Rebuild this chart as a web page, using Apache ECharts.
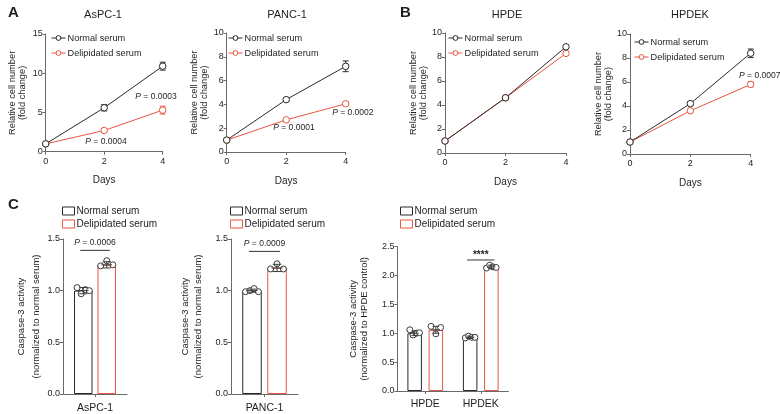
<!DOCTYPE html>
<html><head><meta charset="utf-8">
<script src="https://cdn.jsdelivr.net/npm/echarts@6/dist/echarts.min.js"></script>
<style>html,body{margin:0;padding:0;background:#fff}#c{width:780px;height:414px}</style>
</head><body><div id="c"></div>
<script>
// ---------- DATA ----------
const days = [0, 2, 4];
const lineCellLines = ['AsPC-1', 'PANC-1', 'HPDE', 'HPDEK'];
const aspcNormal = [1.0, 5.6, 10.9];
const aspcNormalSD = [0.05, 0.4, 0.5];
const aspcDelip = [1.0, 2.7, 5.3];
const aspcDelipSD = [0.05, 0.1, 0.5];
const pancNormal = [1.0, 4.4, 7.2];
const pancNormalSD = [0.05, 0.1, 0.45];
const pancDelip = [1.0, 2.7, 4.05];
const pancDelipSD = [0.05, 0.08, 0.1];
const hpdeNormal = [1.0, 4.6, 8.85];
const hpdeNormalSD = [0.05, 0.12, 0.1];
const hpdeDelip = [1.0, 4.6, 8.3];
const hpdeDelipSD = [0.05, 0.1, 0.1];
const hpdekNormal = [1.0, 4.2, 8.4];
const hpdekNormalSD = [0.05, 0.15, 0.35];
const hpdekDelip = [1.0, 3.6, 5.8];
const hpdekDelipSD = [0.05, 0.1, 0.2];
const aspcNotes = [[3.77, 6.97], [2.06, 1.24]];
const aspcNoteText = ['0.0003', '0.0004'];
const pancNotes = [[2.26, 2.02], [4.24, 3.28]];
const pancNoteText = ['0.0001', '0.0002'];
const hpdekNotes = [[4.3, 6.5]];
const hpdekNoteText = ['0.0007'];

const c1Cats = ['AsPC-1'];
const c1NormalMean = [1.0];
const c1DelipMean = [1.25];
const c1NormalSD = [0.03];
const c1DelipSD = [0.03];
const c1NormalPts = [[1.03, 0.97, 1.01, 1.0]];
const c1DelipPts = [[1.24, 1.29, 1.25]];
const c1Bracket = [0, 1.39];
const c1BracketText = '0.0006';

const c2Cats = ['PANC-1'];
const c2NormalMean = [1.0];
const c2DelipMean = [1.22];
const c2NormalSD = [0.015];
const c2DelipSD = [0.035];
const c2NormalPts = [[0.99, 1.0, 1.02, 0.99]];
const c2DelipPts = [[1.21, 1.26, 1.21]];
const c2Bracket = [0, 1.38];
const c2BracketText = '0.0009';

const c3Cats = ['HPDE', 'HPDEK'];
const c3NormalMean = [1.0, 0.93];
const c3DelipMean = [1.06, 2.15];
const c3NormalSD = [0.04, 0.02];
const c3DelipSD = [0.06, 0.03];
const c3NormalPts = [[1.06, 0.97, 1.0, 1.01], [0.92, 0.95, 0.93, 0.93]];
const c3DelipPts = [[1.12, 0.99, 1.1], [2.13, 2.18, 2.15, 2.14]];
const c3Bracket = [1, 2.27];
const c3BracketText = '****';

const legendNames = ['Normal serum', 'Delipidated serum'];

// ---------- STYLE ----------
const BLACK = '#2a2a2a', RED = '#e9553f', AXIS = '#6a6a6a', TEXT = '#1e1e1e';
const FONT = 'Liberation Sans, Arial, Helvetica, sans-serif';

const grids = [], xAxes = [], yAxes = [], series = [], legends = [];

function errRender(color, cw) {
  return function (params, api) {
    const x = api.value(0), y = api.value(1), e = api.value(2);
    const lo = api.coord([x, y - e]), hi = api.coord([x, y + e]);
    const st = { stroke: color, lineWidth: 1 };
    return { type: 'group', children: [
      { type: 'line', shape: { x1: lo[0], y1: lo[1], x2: hi[0], y2: hi[1] }, style: st },
      { type: 'line', shape: { x1: lo[0] - cw, y1: lo[1], x2: lo[0] + cw, y2: lo[1] }, style: st },
      { type: 'line', shape: { x1: hi[0] - cw, y1: hi[1], x2: hi[0] + cw, y2: hi[1] }, style: st }
    ] };
  };
}

function axisCommon() {
  return {
    axisLine: { show: true, onZero: false, lineStyle: { color: AXIS, width: 1 } },
    axisTick: { show: true, inside: false, length: 3, lineStyle: { color: AXIS, width: 1 } },
    splitLine: { show: false },
    axisLabel: { fontSize: 9, color: TEXT, fontFamily: FONT, margin: 3 }
  };
}

function linePanel(k, g, yMax, yInt, nrm, nrmSD, del, delSD, leg, notes, noteText, nameGap) {
  grids.push({ left: g[0], top: g[1], width: g[2], height: g[3] });
  xAxes.push(Object.assign(axisCommon(), {
    gridIndex: k, type: 'value', min: 0, max: 4, interval: 2,
    name: 'Days', nameLocation: 'middle', nameGap: 24,
    nameTextStyle: { fontSize: 10, color: TEXT, fontFamily: FONT }
  }));
  xAxes[k].axisLabel.margin = 5;
  yAxes.push(Object.assign(axisCommon(), {
    gridIndex: k, type: 'value', min: 0, max: yMax, interval: yInt,
    name: 'Relative cell number\n(fold change)', nameLocation: 'middle', nameRotate: 90, nameGap: nameGap,
    nameTextStyle: { fontSize: 9.3, color: TEXT, fontFamily: FONT, lineHeight: 10 }
  }));
  const mk = (vals) => days.map((d, i) => [d, vals[i]]);
  const mkE = (vals, sd) => days.map((d, i) => [d, vals[i], sd[i]]);
  [[nrm, nrmSD, BLACK, legendNames[0]], [del, delSD, RED, legendNames[1]]].forEach(([v, sd, c, nm], j) => {
    series.push({
      type: 'line', name: nm, xAxisIndex: k, yAxisIndex: k, data: mk(v),
      symbol: 'circle', symbolSize: 6.5, z: 4 - j,
      lineStyle: { color: c, width: 1 }, itemStyle: { color: '#ffffff', borderColor: c, borderWidth: 1 },
      emphasis: { disabled: true }, animation: false
    });
    series.push({
      type: 'custom', name: nm + ' err', xAxisIndex: k, yAxisIndex: k, data: mkE(v, sd),
      encode: { x: 0, y: 1 }, renderItem: errRender(c, 3), z: 1, animation: false, silent: true
    });
  });
  if (notes) {
    series.push({
      type: 'custom', name: 'notes' + k, xAxisIndex: k, yAxisIndex: k, data: notes,
      encode: { x: 0, y: 1 }, z: 6, silent: true, animation: false, clip: false,
      renderItem: function (params, api) {
        const p = api.coord([api.value(0), api.value(1)]);
        return { type: 'text', x: p[0], y: p[1], style: {
          text: '{i|P} = ' + noteText[params.dataIndex],
          rich: { i: { fontStyle: 'italic', fontSize: 8.5, fontFamily: FONT, fill: TEXT } },
          fontSize: 8.5, fontFamily: FONT, fill: TEXT,
          align: 'center', verticalAlign: 'middle', textAlign: 'center', textVerticalAlign: 'middle'
        } };
      }
    });
  }
  legends.push({
    data: legendNames, orient: 'vertical', left: leg[0], top: leg[1],
    itemWidth: 14, itemHeight: 6, itemGap: 3, padding: 0, selectedMode: false,
    itemStyle: { color: '#ffffff', borderWidth: 1 }, lineStyle: { width: 1 },
    textStyle: { fontSize: 9.2, color: TEXT, fontFamily: FONT, lineHeight: 12, padding: [0, 0, 0, -3] }
  });
}

function barPanel(k, g, yMax, yInt, cats, nMean, dMean, nSD, dSD, nPts, dPts, bracket, bText, bw, gap, leg, yName, nameGap, nameLH, labelMargin) {
  grids.push({ left: g[0], top: g[1], width: g[2], height: g[3] });
  const xa = Object.assign(axisCommon(), { gridIndex: k, type: 'category', data: cats });
  xa.axisTick.alignWithLabel = true;
  xa.axisLabel = { fontSize: 10.5, color: TEXT, fontFamily: FONT, margin: labelMargin };
  xAxes.push(xa);
  const ya = Object.assign(axisCommon(), {
    gridIndex: k, type: 'value', min: 0, max: yMax, interval: yInt,
    name: yName, nameLocation: 'middle', nameRotate: 90, nameGap: nameGap,
    nameTextStyle: { fontSize: 9.5, color: TEXT, fontFamily: FONT, lineHeight: nameLH }
  });
  ya.axisLabel.formatter = v => v.toFixed(1);
  yAxes.push(ya);
  const off = (bw + gap) / 2;
  [[nMean, nSD, nPts, BLACK, legendNames[0] + ' (bar)'], [dMean, dSD, dPts, RED, legendNames[1] + ' (bar)']].forEach(([m, sd, pts, c, nm], j) => {
    series.push({
      type: 'bar', name: nm, xAxisIndex: k, yAxisIndex: k, data: m,
      barWidth: bw, barGap: (gap / bw * 100) + '%',
      itemStyle: { color: '#ffffff', borderColor: c, borderWidth: 1 },
      emphasis: { disabled: true }, animation: false, z: 2
    });
    const dots = [];
    pts.forEach((arr, ci) => arr.forEach((v, i) => dots.push([ci, v, i, arr.length])));
    const sgn = j === 0 ? -1 : 1;
    series.push({
      type: 'custom', name: nm + ' dots', xAxisIndex: k, yAxisIndex: k, data: dots,
      encode: { x: 0, y: 1 }, z: 6, silent: true, animation: false,
      renderItem: function (params, api) {
        const p = api.coord([api.value(0), api.value(1)]);
        const n = api.value(3), i = api.value(2);
        const jit = n > 1 ? (i - (n - 1) / 2) / ((n - 1) / 2) * bw * 0.33 : 0;
        return { type: 'circle', shape: { cx: p[0] + sgn * off + jit, cy: p[1], r: 3 },
          style: { fill: '#ffffff', stroke: '#3a3a3a', lineWidth: 1 } };
      }
    });
    const errs = m.map((v, ci) => [ci, v, sd[ci]]);
    series.push({
      type: 'custom', name: nm + ' err', xAxisIndex: k, yAxisIndex: k, data: errs,
      encode: { x: 0, y: 1 }, z: 7, silent: true, animation: false,
      renderItem: function (params, api) {
        const ci = api.value(0), v = api.value(1), e = api.value(2);
        const lo = api.coord([ci, v - e]), hi = api.coord([ci, v + e]), md = api.coord([ci, v]);
        const x = lo[0] + sgn * off, cw = bw * 0.22;
        const st = { stroke: '#3a3a3a', lineWidth: 1 };
        return { type: 'group', children: [
          { type: 'line', shape: { x1: x, y1: lo[1], x2: x, y2: hi[1] }, style: st },
          { type: 'line', shape: { x1: x - cw, y1: lo[1], x2: x + cw, y2: lo[1] }, style: st },
          { type: 'line', shape: { x1: x - cw, y1: hi[1], x2: x + cw, y2: hi[1] }, style: st },
          { type: 'line', shape: { x1: x - cw * 1.3, y1: md[1], x2: x + cw * 1.3, y2: md[1] }, style: st }
        ] };
      }
    });
  });
  series.push({
    type: 'custom', name: 'bracket' + k, xAxisIndex: k, yAxisIndex: k, data: [bracket],
    encode: { x: 0, y: 1 }, z: 8, silent: true, animation: false,
    renderItem: function (params, api) {
      const p = api.coord([api.value(0), api.value(1)]);
      const half = off + 3;
      const isStars = bText.indexOf('*') === 0;
      return { type: 'group', children: [
        { type: 'line', shape: { x1: p[0] - half, y1: p[1], x2: p[0] + half, y2: p[1] }, style: { stroke: '#333', lineWidth: 1 } },
        { type: 'text', x: p[0], y: p[1] - (isStars ? 5 : 8), style: {
          text: isStars ? bText : '{i|P} = ' + bText,
          rich: { i: { fontStyle: 'italic', fontSize: 8.5, fontFamily: FONT, fill: TEXT } },
          fontSize: isStars ? 10 : 8.5, fontFamily: FONT, fill: TEXT, fontWeight: isStars ? 'bold' : 'normal',
          align: 'center', verticalAlign: 'middle', textAlign: 'center', textVerticalAlign: 'middle'
        } }
      ] };
    }
  });
  legends.push({
    data: legendNames.map(n => n + ' (bar)'), orient: 'vertical', left: leg[0], top: leg[1],
    icon: 'rect', itemWidth: 12, itemHeight: 8, itemGap: 1, padding: 0, selectedMode: false,
    itemStyle: { borderWidth: 1 },
    formatter: n => n.replace(' (bar)', ''),
    textStyle: { fontSize: 10, color: TEXT, fontFamily: FONT, lineHeight: 12, padding: [0, 0, 0, -3] }
  });
}

linePanel(0, [45.7, 34, 117, 117.7], 15, 5, aspcNormal, aspcNormalSD, aspcDelip, aspcDelipSD, [51, 32], aspcNotes, aspcNoteText, 18);
linePanel(1, [226.7, 33, 119, 119], 10, 2, pancNormal, pancNormalSD, pancDelip, pancDelipSD, [228, 32], pancNotes, pancNoteText, 14);
linePanel(2, [445, 33, 121, 120], 10, 2, hpdeNormal, hpdeNormalSD, hpdeDelip, hpdeDelipSD, [448, 32], null, null, 13);
linePanel(3, [630, 34, 120.7, 120], 10, 2, hpdekNormal, hpdekNormalSD, hpdekDelip, hpdekDelipSD, [634, 36], hpdekNotes, hpdekNoteText, 12);

barPanel(4, [63, 239, 64, 156], 1.5, 0.5, c1Cats, c1NormalMean, c1DelipMean, c1NormalSD, c1DelipSD, c1NormalPts, c1DelipPts, c1Bracket, c1BracketText, 18.5, 5, [62, 205], 'Caspase-3 activity\n(normalized to normal serum)', 19, 15, 9);
barPanel(5, [231, 239, 67, 156], 1.5, 0.5, c2Cats, c2NormalMean, c2DelipMean, c2NormalSD, c2DelipSD, c2NormalPts, c2DelipPts, c2Bracket, c2BracketText, 19.5, 5.5, [230, 205], 'Caspase-3 activity\n(normalized to normal serum)', 26, 13, 9);
barPanel(6, [397.5, 246.7, 111, 144.3], 2.5, 0.5, c3Cats, c3NormalMean, c3DelipMean, c3NormalSD, c3DelipSD, c3NormalPts, c3DelipPts, c3Bracket, c3BracketText, 14.5, 6.7, [400, 205], 'Caspase-3 activity\n(normalized to HPDE control)', 28, 11, 8);

const titleTexts = [
  { t: 'A', x: 8, y: 13, bold: true, s: 15 }, { t: 'B', x: 400, y: 13, bold: true, s: 15 }, { t: 'C', x: 8, y: 205, bold: true, s: 15 },
  { t: lineCellLines[0], x: 103, y: 15, s: 11, c: true }, { t: lineCellLines[1], x: 287, y: 15, s: 11, c: true },
  { t: lineCellLines[2], x: 507, y: 15, s: 11, c: true }, { t: lineCellLines[3], x: 690, y: 15, s: 11, c: true }
];
const graphics = titleTexts.map(o => ({
  type: 'text', x: o.x, y: o.y,
  style: { text: o.t, fontSize: o.s, fontWeight: o.bold ? 'bold' : 'normal', fontFamily: FONT, fill: TEXT,
    textAlign: o.c ? 'center' : 'left', textVerticalAlign: 'middle', align: o.c ? 'center' : 'left', verticalAlign: 'middle' }
}));

const chart = echarts.init(document.getElementById('c'), null, { renderer: 'canvas' });
chart.setOption({
  backgroundColor: '#ffffff', animation: false,
  textStyle: { fontFamily: FONT },
  grid: grids, xAxis: xAxes, yAxis: yAxes, series: series, legend: legends, graphic: graphics
});
</script></body></html>
